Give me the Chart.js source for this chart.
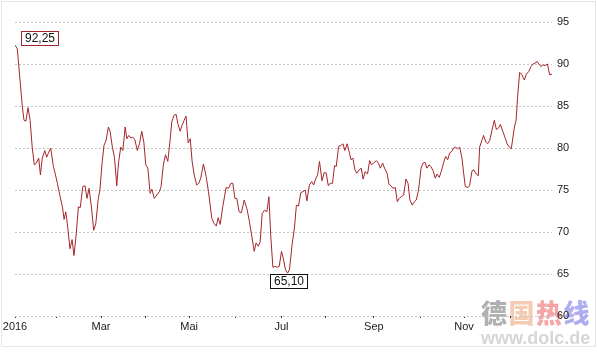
<!DOCTYPE html>
<html>
<head>
<meta charset="utf-8">
<style>
  html, body { margin: 0; padding: 0; background: #fff; }
  #wrap { width: 597px; height: 352px; position: relative; }
</style>
<script src="https://cdn.jsdelivr.net/npm/chart.js@4.4.1/dist/chart.umd.min.js"></script>
</head>
<body>
<div id="wrap"><canvas id="chart-canvas" width="597" height="352"></canvas></div>
<script>
//------------------------ DATA ----------------------------

// trading day index since the first session of 2016
const days = [
  0, 1.1, 3.5, 4.3, 5.2, 6.2, 7.2, 8.2, 9.2, 10.2,
  11.3, 12.1, 13.0, 14.2, 15.1, 16.1, 17.0, 18.3, 19.2, 20.2,
  21.5, 22.6, 23.4, 24.2, 25.3, 26.2, 27.2, 28.1, 29.2, 30.2,
  31.1, 32.3, 33.4, 34.3, 35.3, 36.4, 37.5, 38.5, 39.6, 40.5,
  41.5, 42.4, 43.4, 44.5, 45.3, 46.4, 47.4, 48.5, 49.3, 50.4,
  51.4, 52.5, 53.3, 54.2, 55.2, 56.1, 57.1, 58.3, 59.3, 60.4,
  61.4, 62.3, 63.3, 64.4, 65.2, 66.4, 67.6, 68.8, 69.6, 70.7,
  71.7, 72.8, 73.9, 74.7, 75.8, 76.8, 77.6, 78.7, 79.6, 80.6,
  81.5, 82.5, 83.5, 84.4, 85.4, 86.6, 87.6, 88.5, 89.8, 91.1,
  92.2, 93.8, 94.9, 95.9, 96.8, 97.8, 99.0, 100.6, 101.7, 102.9,
  103.8, 104.8, 105.7, 106.8, 107.9, 109.2, 110.5, 111.6, 112.9, 114.0,
  114.9, 115.9, 116.8, 117.8, 118.9, 120.0, 121.0, 121.9, 122.9, 124.0,
  124.9, 125.9, 127.0, 127.9, 128.9, 129.9, 130.8, 132.0, 133.2, 134.1,
  135.1, 136.2, 137.2, 138.3, 139.1, 140.3, 141.4, 142.3, 143.4, 144.2,
  145.1, 146.3, 147.4, 148.3, 149.3, 150.2, 151.3, 152.3, 153.1, 154.2,
  155.3, 156.3, 157.2, 158.3, 159.3, 160.1, 161.0, 162.0, 162.9, 164.0,
  165.0, 165.9, 166.9, 168.0, 169.0, 169.9, 170.9, 172.2, 173.2, 174.1,
  175.2, 176.1, 177.3, 178.2, 179.2, 180.1, 181.2, 182.2, 183.1, 184.1,
  185.2, 186.3, 187.3, 188.2, 189.3, 190.3, 191.2, 192.3, 193.5, 194.4,
  195.4, 196.3, 197.3, 198.2, 199.2, 200.3, 201.1, 202.2, 203.1, 204.2,
  205.2, 206.2, 207.1, 208.2, 209.0, 210.0, 210.9, 211.9, 213.0, 213.8,
  214.6, 215.9, 216.6, 217.8, 218.6, 219.8, 220.8, 221.4, 222.5, 223.3,
  224.4, 225.2, 226.2, 227.3, 228.4, 229.4, 230.5, 231.3, 232.6, 233.7,
  234.5, 235.6, 236.5, 237.3, 238.0, 238.8, 239.5, 240.5, 241.6, 242.7,
  243.7, 244.8, 245.9, 246.9, 247.8, 248.8, 249.6, 250.6, 251.6, 252.5,
  253.7, 254.8, 255.9
];

const closes = [
  92.25, 91.8, 84.9, 83.3, 83.2, 84.8, 83.3, 80.1, 78.0, 78.2,
  78.8, 76.8, 78.8, 79.7, 78.9, 79.5, 80.0, 77.8, 76.9, 75.8,
  74.2, 73.0, 71.5, 72.4, 70.2, 68.0, 69.1, 67.2, 69.8, 73.0,
  72.9, 75.4, 75.5, 74.0, 75.2, 73.0, 70.2, 71.0, 73.8, 75.1,
  78.2, 80.3, 80.9, 82.5, 82.0, 80.1, 78.9, 75.5, 78.2, 80.1,
  79.7, 82.5, 81.1, 81.5, 81.2, 81.3, 81.0, 79.7, 80.5, 82.0,
  80.7, 78.0, 77.6, 74.6, 75.1, 74.0, 74.4, 74.8, 75.4, 78.0,
  79.2, 78.4, 80.9, 83.1, 83.9, 84.0, 82.9, 82.0, 82.7, 83.3,
  83.8, 80.6, 81.1, 78.4, 76.8, 75.6, 75.8, 76.4, 78.1, 76.6,
  74.8, 71.6, 71.0, 70.7, 71.7, 70.9, 73.0, 75.3, 75.2, 75.8,
  75.8, 74.0, 74.0, 72.4, 72.3, 73.8, 72.8, 71.4, 69.4, 67.7,
  68.7, 68.3, 68.8, 72.2, 72.6, 72.4, 74.2, 69.4, 65.8, 65.9,
  65.8, 65.9, 67.7, 66.8, 65.5, 65.10, 65.5, 68.4, 70.6, 73.2,
  73.1, 74.7, 74.8, 75.0, 73.7, 75.6, 76.0, 75.6, 76.4, 76.8,
  78.4, 76.1, 77.1, 77.0, 75.5, 75.8, 75.8, 77.9, 77.8, 80.2,
  80.3, 80.5, 79.7, 80.5, 79.5, 78.6, 78.8, 77.4, 77.0, 77.4,
  77.6, 76.3, 77.2, 76.9, 78.5, 78.0, 78.2, 78.5, 78.2, 77.6,
  78.2, 77.6, 77.0, 75.7, 75.5, 75.2, 75.3, 73.6, 74.0, 74.2,
  74.4, 76.3, 75.8, 73.8, 73.2, 73.6, 73.8, 75.0, 77.6, 78.2,
  78.3, 77.6, 78.0, 77.8, 77.3, 76.4, 76.9, 76.5, 77.2, 78.2,
  79.0, 78.6, 79.4, 79.6, 80.0, 80.1, 79.9, 80.1, 78.8, 77.0,
  75.4, 75.3, 75.5, 77.3, 77.4, 76.9, 76.7, 80.1, 80.9, 81.5,
  80.7, 80.5, 80.9, 82.1, 83.3, 82.2, 82.4, 82.8, 81.9, 81.1,
  80.5, 80.1, 79.9, 81.3, 82.5, 83.3, 86.1, 89.0, 88.7, 88.1,
  88.8, 89.1, 89.7, 90.0, 90.1, 90.3, 90.0, 89.7, 89.9, 89.8,
  90.0, 88.7, 88.8
];

// first trading day of each month, and what is printed under it
const monthStarts = [0, 20, 41, 62, 83, 105, 127, 148, 171, 193, 214, 236];
const monthLabels = ["2016", "", "Mar", "", "Mai", "", "Jul", "", "Sep", "", "Nov", ""];

const yMin = 60;
const yMax = 95;
const yStep = 5;

//------------------------ HELPERS ----------------------------

const LINE_COLOR = "#a3262a";
const FONT = "'Liberation Sans', Arial, sans-serif";

function formatDe(v) {
  return v.toFixed(2).replace(".", ",");
}

// frame around the whole picture + the site watermark, drawn under the chart
const backdrop = {
  id: "backdrop",
  beforeDraw(chart) {
    const ctx = chart.ctx;
    ctx.save();
    ctx.strokeStyle = "#e6e6e6";
    ctx.lineWidth = 1;
    ctx.strokeRect(1.5, 1.5, 594, 345);

    ctx.font = "900 26px 'Noto Sans CJK SC', sans-serif";
    ctx.textBaseline = "middle";
    ctx.textAlign = "left";
    const chars = ["德", "国", "热", "线"];
    const colors = ["#b0b0b0", "#f6cbb3", "#f3a6a6", "#adadf0"];
    chars.forEach((c, i) => {
      ctx.fillStyle = colors[i];
      ctx.fillText(c, 481 + i * 27.5, 313);
    });
    ctx.font = "bold 18px " + FONT;
    ctx.fillStyle = "#d6d6d6";
    ctx.fillText("www.dolc.de", 481, 339);
    ctx.restore();
  },
};

// boxed labels at the highest and lowest close
const extremes = {
  id: "extremes",
  afterDatasetsDraw(chart) {
    const ctx = chart.ctx;
    const xs = chart.scales.x;
    const ys = chart.scales.y;
    let hi = 0;
    let lo = 0;
    closes.forEach((v, i) => {
      if (v > closes[hi]) hi = i;
      if (v < closes[lo]) lo = i;
    });

    ctx.save();
    ctx.font = "12px " + FONT;
    ctx.textAlign = "center";
    ctx.textBaseline = "middle";

    function box(text, left, top, border) {
      const w = Math.round(ctx.measureText(text).width + 8);
      const h = 15;
      left = Math.round(left);
      top = Math.round(top);
      ctx.fillStyle = "#fff";
      ctx.fillRect(left, top, w, h);
      ctx.strokeStyle = border;
      ctx.lineWidth = 1;
      ctx.strokeRect(left + 0.5, top + 0.5, w - 1, h - 1);
      ctx.fillStyle = "#111";
      ctx.fillText(text, left + w / 2, top + h / 2 + 0.5);
    }

    const hx = xs.getPixelForValue(days[hi]);
    const hy = ys.getPixelForValue(closes[hi]);
    box(formatDe(closes[hi]), hx + 6, hy - 14, LINE_COLOR);

    const lx = xs.getPixelForValue(days[lo]);
    const ly = ys.getPixelForValue(closes[lo]);
    const lw = ctx.measureText(formatDe(closes[lo])).width + 8;
    box(formatDe(closes[lo]), lx - lw / 2 + 1, ly + 1, "#111");
    ctx.restore();
  },
};

//------------------------ CHART ----------------------------

const ctx = document.getElementById("chart-canvas").getContext("2d");
const myChart = new Chart(ctx, {
  type: "line",
  data: {
    datasets: [
      {
        data: days.map((d, i) => ({ x: d, y: closes[i] })),
        borderColor: LINE_COLOR,
        borderWidth: 1,
        pointRadius: 0,
        tension: 0,
        fill: false,
      },
    ],
  },
  options: {
    responsive: false,
    animation: false,
    layout: {
      padding: { left: 15, right: 0, top: 22, bottom: 0 },
    },
    plugins: {
      legend: { display: false },
      tooltip: { enabled: false },
    },
    scales: {
      x: {
        type: "linear",
        min: 0,
        max: 255.9,
        afterBuildTicks: (scale) => {
          scale.ticks = monthStarts.map((v) => ({ value: v }));
        },
        afterFit: (scale) => {
          scale.height = 36;
        },
        ticks: {
          autoSkip: false,
          maxRotation: 0,
          padding: 2,
          color: "#222",
          font: { family: FONT, size: 11 },
          callback: (value, index) => monthLabels[index],
        },
        grid: {
          drawOnChartArea: false,
          drawTicks: true,
          tickLength: 2,
          color: "#333",
        },
        border: { display: false },
      },
      y: {
        position: "right",
        min: yMin,
        max: yMax,
        afterFit: (scale) => {
          scale.width = 45;
        },
        ticks: {
          stepSize: yStep,
          padding: 5,
          color: "#222",
          font: { family: FONT, size: 11 },
        },
        grid: {
          drawTicks: false,
          color: "#c4c4c4",
          lineWidth: 1,
        },
        border: { display: false, dash: [2, 2] },
      },
    },
  },
  plugins: [backdrop, extremes],
});
</script>
</body>
</html>
